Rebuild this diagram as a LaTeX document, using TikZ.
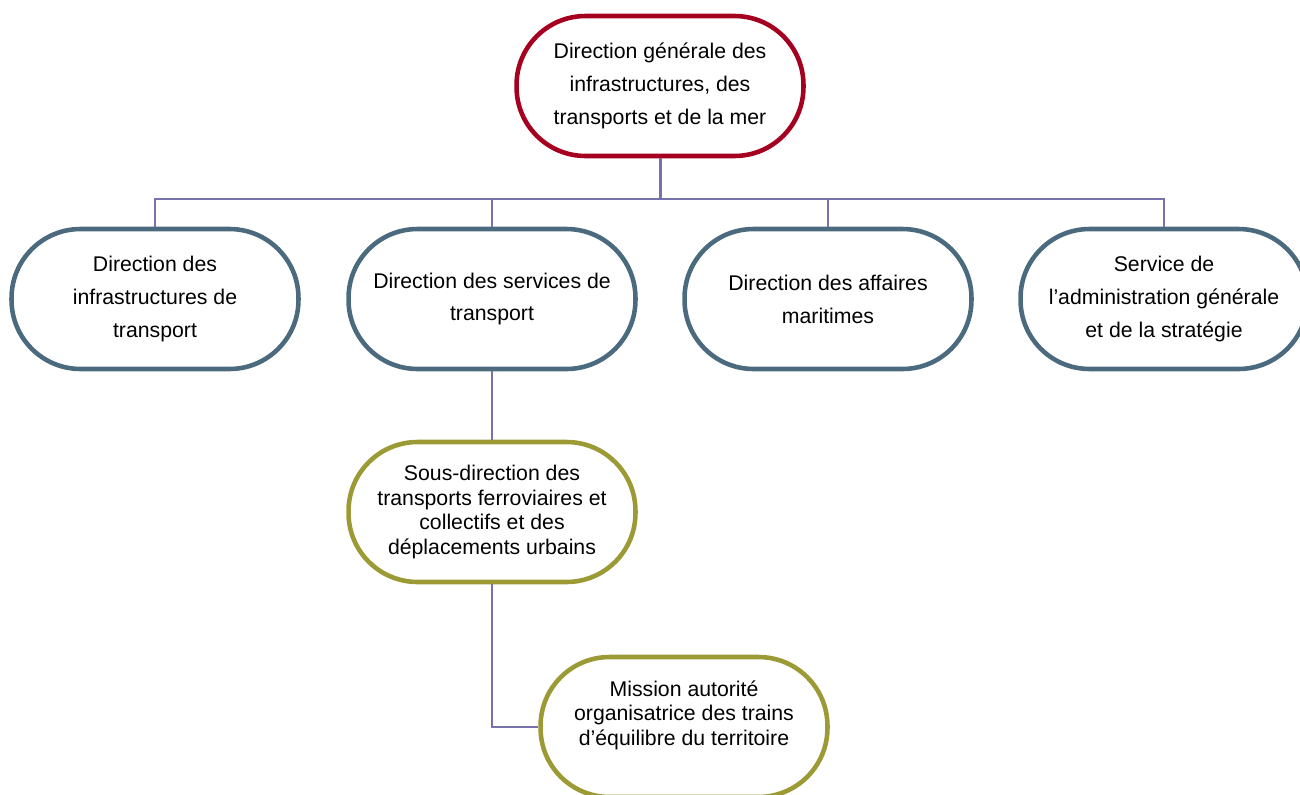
\documentclass[tikz,border=0pt]{standalone}
\usepackage{fontspec}
\setmainfont{Liberation Sans}
\definecolor{topred}{HTML}{A5001F}
\definecolor{slate}{HTML}{4B6A7E}
\definecolor{olive}{HTML}{9B9A35}
\definecolor{connc}{HTML}{7772AC}
\begin{document}
\begin{tikzpicture}[x=0.02cm,y=-0.02cm,
  orgbox/.style={draw, fill=white, line width=2.6pt, rounded corners=1.38cm,
    minimum width=5.74cm, minimum height=2.8cm, align=center, inner sep=0pt,
    font=\fontsize{12.1}{18.7}\selectfont},
  redbox/.style={orgbox, draw=topred},
  bluebox/.style={orgbox, draw=slate},
  olivebox/.style={orgbox, draw=olive, font=\fontsize{12.1}{13.9}\selectfont},
  boxtext/.style={align=center, inner sep=0pt, font=\fontsize{12.1}{13.9}\selectfont},
  conn/.style={draw=connc, line width=1.1pt},
  thickconn/.style={draw=connc, line width=1.7pt}]
\useasboundingbox (0,0) rectangle (1300,794);
\node[redbox] (top) at (660,86) {Direction générale des\\infrastructures, des\\transports et de la mer};
\node[bluebox] (b1) at (155,299) {Direction des\\infrastructures de\\transport};
\node[bluebox] (b2) at (492,299) {Direction des services de\\transport};
\node[bluebox] (b3) at (828,299) {Direction des affaires\\maritimes};
\node[bluebox] (b4) at (1164,299) {Service de\\l’administration générale\\et de la stratégie};
\node[olivebox] (sous) at (492,512) {Sous-direction des\\transports ferroviaires et\\collectifs et des\\déplacements urbains};
\node[olivebox] (mission) at (684,727) {};
\node[boxtext] (missiontext) at (684,715) {Mission autorité\\organisatrice des trains\\d’équilibre du territoire};
\coordinate (bus) at (660,199);
\draw[thickconn] (top.south) -- (bus);
\draw[conn] (bus) -| (b1.north);
\draw[conn] (bus) -| (b2.north);
\draw[conn] (bus) -| (b3.north);
\draw[conn] (bus) -| (b4.north);
\draw[conn] (b2.south) -- (sous.north);
\draw[conn] (sous.south) |- (mission.west);
\end{tikzpicture}
\end{document}
